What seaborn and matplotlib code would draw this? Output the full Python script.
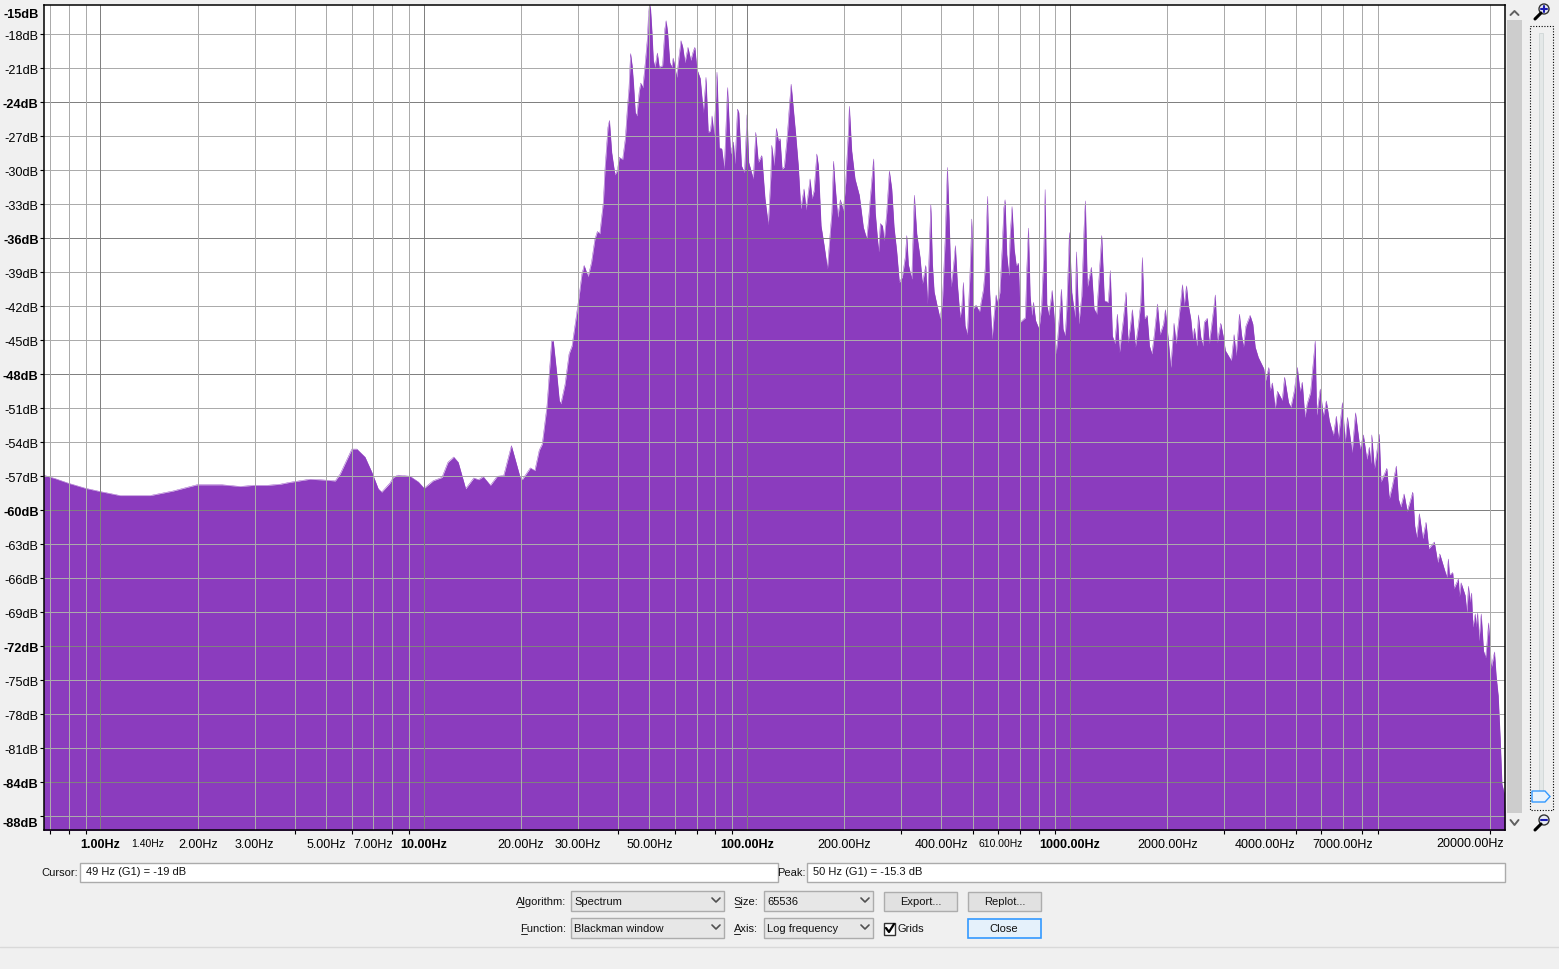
import pandas as pd
import numpy as np
import matplotlib.pyplot as plt
import seaborn as sns
from matplotlib.patches import Rectangle, Circle, Polygon

# spectrum, (Hz, dB), peaks and valleys
band_sub10 = [(0.667,-56.9),(0.724,-57.2),(0.794,-57.6),(0.897,-58.05),(1.0,-58.35),(1.151,-58.7),(1.425,-58.7),
    (1.678,-58.3),(1.99,-57.75),(2.38,-57.75),(2.71,-57.9),(2.97,-57.8),(3.28,-57.8),(3.6,-57.7),(3.86,-57.53),
    (4.45,-57.26),(4.88,-57.32),(5.33,-57.41),(5.52,-56.8),(6.0,-54.6),(6.22,-54.6),(6.59,-55.3),(6.92,-56.65),
    (7.24,-58.1),(7.42,-58.4),(7.87,-57.6),(8.06,-57.1),(8.34,-56.9),(9.08,-57.0),(9.64,-57.5)]

band_tens = [(10.04,-58.06),(10.7,-57.4),(11.4,-57.1),(11.9,-55.76),(12.4,-55.3),(12.8,-55.76),(13.5,-58.1),
    (14.3,-57.15),(14.8,-57.3),(15.3,-57.03),(16.1,-57.8),(16.9,-57.0),(17.7,-56.94),(18.7,-54.3),(19.9,-57.1),
    (20.2,-57.3),(21.4,-56.26),(22.1,-56.5),(22.8,-54.7),(23.3,-54.15),(24.1,-50.76),(24.9,-45.06),(25.2,-45.06),
    (25.8,-47.8),(26.3,-50.3),(26.6,-50.6),(27.4,-48.9),(28.2,-46.2),(28.8,-45.5),(29.6,-43.15),(30.3,-41.06),
    (30.9,-39.15),(31.4,-38.4),(32.3,-39.4),(33.1,-38.1),(33.9,-36.06),(34.5,-35.4),(35.1,-35.6),(36.0,-32.8),
    (36.4,-30.0),(37.2,-26.2),(37.6,-25.6),(38.2,-28.4),(39.1,-30.4),(39.8,-30.0),(40.3,-28.85),(41.3,-29.06),
    (42.1,-27.2),(42.7,-24.6),(43.2,-22.8),(43.7,-19.7),(44.2,-20.76),(44.6,-22.2),(45.2,-24.9),(45.7,-25.2),
    (46.5,-23.0),(47.0,-22.3),(47.7,-22.7),(48.5,-20.6),(49.3,-18.26),(49.6,-16.5),(50.0,-15.3),(50.4,-15.76),
    (50.9,-17.8),(51.4,-20.3),(52.0,-20.9),(52.9,-19.65),(53.6,-20.9),(54.9,-20.76),(55.8,-17.5),(56.3,-16.8),
    (56.9,-17.8),(57.8,-20.5),(58.7,-20.9),(59.2,-20.1),(60.0,-20.9),(60.7,-21.8),(61.7,-20.0),(62.6,-18.56),
    (63.4,-19.15),(64.4,-20.5),(65.8,-19.15),(67.1,-20.3),(68.4,-19.44),(69.1,-19.15),(70.1,-21.06),(71.8,-21.9),
    (73.4,-24.9),(74.8,-21.8),(76.0,-26.65),(77.2,-26.5),(78.1,-25.2),(79.2,-26.9),(80.9,-21.35),(82.2,-28.0),
    (83.7,-28.1),(85.2,-29.9),(87.2,-22.7),(89.1,-28.56),(90.9,-27.5),(92.0,-29.44),(93.6,-24.6),(94.5,-24.9),
    (96.3,-29.6),(98.4,-30.2)]

band_hundreds = [(100.2,-25.1),(101.4,-29.3),(104.8,-30.76),(106.6,-26.65),(108.6,-29.3),(111.3,-28.7),(113.9,-32.5),
    (116.6,-34.8),(118.7,-30.5),(119.5,-27.8),(121.5,-29.6),(123.5,-26.3),(125.3,-27.4),(126.8,-27.2),(128.6,-29.9),
    (130.7,-29.7),(133.6,-26.8),(135.5,-24.3),(137.2,-22.4),(138.8,-24.0),(142.1,-27.2),(144.4,-29.6),(146.9,-33.4),
    (150.4,-31.65),(152.6,-33.5),(157.0,-30.76),(159.2,-32.5),(161.6,-31.8),(164.7,-28.56),(166.6,-29.6),(169.8,-34.9),
    (173.5,-36.6),(177.7,-38.7),(181.1,-35.6),(183.4,-33.7),(185.5,-29.2),(187.4,-31.06),(191.2,-34.15),(194.8,-32.6),
    (199.0,-33.56),(202.4,-31.06),(206.2,-26.65),(207.7,-24.35),(211.2,-28.26),(216.3,-30.76),(223.0,-32.2),(229.5,-35.03),
    (235.1,-36.06),(238.0,-34.44),(246.8,-29.0),(249.8,-33.7),(255.8,-37.2),(259.0,-34.7),(263.0,-34.9),(266.3,-36.2),
    (271.1,-33.7),(276.2,-30.06),(281.0,-31.65),(285.6,-35.0),(291.2,-37.2),(296.6,-39.9),(303.0,-39.4),(309.2,-37.7),
    (312.7,-35.76),(316.2,-38.3),(324.0,-39.6),(327.7,-35.0),(330.0,-32.2),(335.8,-35.6),(343.8,-37.7),(349.5,-40.0),
    (358.0,-38.4),(362.2,-41.8),(366.6,-37.5),(371.1,-33.0),(375.4,-38.3),(380.0,-40.7),(387.2,-41.8),(396.5,-43.1),
    (403.0,-41.65),(410.9,-36.2),(417.6,-29.75),(422.7,-34.15),(428.8,-40.3),(435.8,-38.6),(442.1,-36.65),(448.4,-40.0),
    (457.1,-43.0),(462.7,-42.1),(468.0,-39.9),(473.6,-43.7),(481.5,-44.5),(490.9,-38.85),(497.0,-34.3),(502.6,-42.2),
    (512.4,-41.9),(525.0,-42.5),(531.0,-41.65),(540.0,-40.5),(546.5,-38.7),(555.8,-32.3),(564.0,-40.5),(574.0,-44.9),
    (583.8,-42.5),(591.0,-41.0),(597.5,-41.8),(607.0,-40.76),(617.0,-36.9),(624.5,-33.3),(630.0,-32.6),(637.5,-37.4),
    (647.0,-39.3),(653.0,-35.76),(662.0,-33.2),(672.0,-36.9),(682.0,-38.4),(693.0,-38.2),(702.0,-43.4),(728.0,-43.0),
    (735.0,-38.85),(744.0,-35.1),(753.0,-41.06),(762.0,-42.8),(771.0,-41.65),(783.0,-43.26),(802.0,-44.0),(817.0,-42.1),
    (829.0,-37.8),(838.0,-31.7),(848.0,-41.8),(860.0,-42.8),(870.0,-41.8),(881.0,-40.6),(894.0,-43.1),(906.0,-46.2),
    (917.0,-44.7),(929.0,-42.6),(941.0,-40.5),(952.0,-44.0),(967.0,-44.6),(977.5,-42.2),(996.0,-35.5)]

band_thousands = [(1013,-40.76),(1037,-43.0),(1047,-37.2),(1065,-43.56),(1088,-41.06),(1106,-35.0),(1116,-32.7),(1132,-40.3),
    (1165,-38.56),(1187,-42.2),(1210,-42.7),(1254,-35.76),(1278,-41.5),(1314,-41.65),(1333,-38.85),(1353,-44.6),
    (1376,-45.3),(1402,-42.7),(1423,-46.06),(1462,-43.26),(1491,-40.76),(1513,-45.2),(1535,-44.0),(1560,-42.3),
    (1594,-45.6),(1628,-43.7),(1656,-41.65),(1675,-37.7),(1699,-43.1),(1733,-42.8),(1762,-45.5),(1793,-46.2),
    (1825,-44.44),(1865,-41.8),(1900,-44.5),(1948,-43.56),(1974,-42.3),(2016,-45.0),(2051,-47.4),(2099,-43.5),
    (2130,-45.3),(2192,-42.1),(2229,-40.1),(2256,-41.94),(2294,-40.2),(2326,-41.94),(2365,-43.1),(2399,-44.9),
    (2427,-43.94),(2468,-45.5),(2497,-42.76),(2540,-44.7),(2576,-45.5),(2605,-43.4),(2660,-43.06),(2698,-45.3),
    (2737,-43.94),(2817,-41.0),(2857,-45.2),(2928,-43.5),(2983,-44.7),(3026,-45.9),(3158,-46.8),(3220,-44.5),
    (3268,-46.35),(3345,-42.7),(3393,-44.44),(3442,-45.6),(3502,-43.76),(3609,-42.8),(3680,-43.56),(3743,-45.6),
    (3826,-46.5),(3979,-47.5),(4028,-48.56),(4125,-47.4),(4161,-49.44),(4230,-48.76),(4314,-51.06),(4386,-49.5),
    (4538,-50.3),(4613,-48.26),(4747,-50.5),(4828,-50.9),(4945,-49.44),(5052,-47.4),(5152,-49.5),(5234,-48.7),
    (5332,-51.8),(5420,-50.6),(5552,-49.6),(5740,-45.06),(5797,-51.6),(5950,-49.3),(6080,-51.7),(6212,-50.35),
    (6348,-52.1),(6530,-53.4),(6672,-51.7),(6770,-53.7),(6967,-50.5),(7104,-54.0),(7222,-51.8),(7467,-54.9),
    (7648,-51.4),(7900,-54.6),(8090,-53.35),(8290,-55.5),(8440,-54.44),(8530,-55.9),(8590,-53.35),(8750,-56.35),
    (9060,-53.3),(9170,-57.5),(9560,-56.3),(9730,-59.0),(9950,-57.8)]

band_top = [(10060,-57.1),(10230,-56.1),(10380,-59.0),(10560,-59.7),(10810,-58.56),(11060,-60.1),(11500,-58.4),(11660,-61.35),
    (11830,-62.4),(12050,-60.3),(12350,-62.5),(12640,-61.06),(12890,-63.4),(13410,-62.8),(13740,-64.6),(13940,-63.85),
    (14300,-64.9),(14650,-65.9),(14820,-64.3),(14930,-65.7),(15290,-65.5),(15430,-66.9),(15920,-66.06),(16030,-67.6),
    (16230,-66.4),(16700,-67.5),(16910,-69.0),(17100,-66.7),(17310,-68.1),(17480,-67.3),(17650,-70.3),(17950,-69.15),
    (18080,-70.3),(18250,-69.06),(18430,-71.5),(18730,-69.15),(19040,-72.4),(19320,-73.0),(19510,-71.8),(19730,-69.94),
    (19970,-72.1),(20110,-73.94),(20590,-72.5),(20830,-74.6),(21140,-76.35),(21450,-80.2),(21710,-84.15),(22080,-85.0),
    (22190,-86.65)]

db_ticks = [-18, -21, -24, -27, -30, -33, -36, -39, -42, -45, -48, -51, -54, -57, -60, -63, -66, -69, -72, -75, -78, -81, -84, -87]
db_bold = [-24, -36, -48, -60, -72, -84]
freq_grid = [0.7, 0.8, 0.9, 1, 2, 3, 4, 5, 6, 7, 8, 9, 10, 20, 30, 40, 50, 60, 70, 80, 90, 100, 200, 300, 400, 500, 600,
    700, 800, 900, 1000, 2000, 3000, 4000, 5000, 6000, 7000, 8000, 9000, 20000]
freq_dark = [1, 10, 100, 1000]
freq_labels = [1, 1.4, 2, 3, 5, 7, 10, 20, 30, 50, 100, 200, 400, 610, 1000, 2000, 4000, 7000]
freq_bold = [1, 10, 100, 1000]
freq_small = [1.4, 610]

PURPLE = '#8B3CBE'
W, H = 1559, 970
FONT = 'Liberation Sans'
BG = '#F0F0F0'

df = pd.DataFrame(band_sub10 + band_tens + band_hundreds + band_thousands + band_top, columns=['freq', 'db'])

sns.set_theme(style='white')
plt.rcParams['font.family'] = [FONT, 'DejaVu Sans']

fig = plt.figure(figsize=(W / 100, H / 100), dpi=100, facecolor=BG)
ax = fig.add_axes([43.5 / W, 1 - 830.5 / H, 1461.5 / W, 825 / H])

sns.lineplot(data=df, x='freq', y='db', ax=ax, color=PURPLE, lw=0.3, estimator=None, errorbar=None, sort=False)
line_x, line_y = ax.lines[0].get_data()
ax.fill_between(line_x, line_y, -100, color=PURPLE, lw=0)

ax.set_xscale('log')
ax.set_xlim(0.667, 22190)
ax.set_ylim(-88.17, -15.37)
ax.set_xlabel('')
ax.set_ylabel('')

# grid over the fill
for d in db_ticks:
    ax.axhline(d, color='#808080' if d in db_bold else '#ABABAB', lw=0.72, zorder=3)
for f in freq_grid:
    ax.axvline(f, color='#808080' if f in freq_dark else '#ABABAB', lw=0.72, zorder=3)

for s in ax.spines.values():
    s.set_visible(True)
    s.set_color('black')
    s.set_linewidth(1.1)
    s.set_zorder(5)

ax.set_yticks(db_ticks)
ax.set_yticklabels(['' if d == -87 else f'{d}dB' for d in db_ticks], fontsize=9.2, color='black')
for lab, d in zip(ax.get_yticklabels(), db_ticks):
    if d in db_bold:
        lab.set_fontweight('bold')
ax.tick_params(axis='y', length=3, width=0.8, pad=0.5, left=True, color='black')

ax.set_xticks(freq_labels)
labs = [f'{f:.2f}Hz' for f in freq_labels]
ax.set_xticklabels(labs, fontsize=9, color='black')
for lab, f in zip(ax.get_xticklabels(), freq_labels):
    if f in freq_bold:
        lab.set_fontweight('bold')
    if f in freq_small:
        lab.set_fontsize(7.5)
ax.set_xticks(freq_grid, minor=True)
ax.set_xticklabels([], minor=True)
ax.tick_params(axis='x', which='major', length=0, pad=6)
ax.tick_params(axis='x', which='minor', length=3, width=0.8, bottom=True, color='black')

ax.annotate('20000.00Hz', xy=(1, 0), xycoords='axes fraction', xytext=(-1.5, -14), textcoords='offset pixels',
            ha='right', va='center', fontsize=9, color='black')
ax.annotate('-15dB', xy=(0, 1), xycoords='axes fraction', xytext=(-5, -10), textcoords='offset pixels',
            ha='right', va='center', fontsize=9.2, fontweight='bold', color='black')
ax.annotate('-88dB', xy=(0, 0), xycoords='axes fraction', xytext=(-5, 6), textcoords='offset pixels',
            ha='right', va='center', fontsize=9.2, fontweight='bold', color='black')

# dialog controls, in pixels
ui = fig.add_axes([0, 0, 1, 1], facecolor='none')
ui.set_xlim(0, W)
ui.set_ylim(H, 0)
ui.axis('off')


def box(x0, y0, x1, y1, face, edge, lw=0.8):
    ui.add_patch(Rectangle((x0 + .5, y0 + .5), x1 - x0, y1 - y0, facecolor=face, edgecolor=edge, lw=lw))


def label(x, y, s, ha='left', size=8, under=0):
    ui.text(x, y + 1, s, ha=ha, va='center', fontsize=size, color='#111111')
    if under:
        # access key underline below first letter
        x0 = x if ha == 'left' else x - under[0]
        ui.plot([x0, x0 + under[1]], [y + 6.5, y + 6.5], color='#222222', lw=0.7)


def combo(x0, y0, x1, y1, s):
    box(x0, y0, x1, y1, '#E7E7E7', '#ACACAC', 1)
    label(x0 + 3, (y0 + y1) / 2, s)
    cx, cy = x1 - 8, (y0 + y1) / 2
    ui.plot([cx - 4, cx, cx + 4], [cy - 2, cy + 2, cy - 2], color='#505050', lw=1.2)


def magnifier(cx, cy, plus):
    ui.plot([cx - 3, cx - 9], [cy + 4, cy + 10], color='black', lw=2.2)
    ui.add_patch(Circle((cx, cy), 5, facecolor='#E8ECF4', edgecolor='#333333', lw=1))
    ui.plot([cx - 3, cx + 3], [cy, cy], color='#1A1AB0', lw=1.5)
    if plus:
        ui.plot([cx, cx], [cy - 3, cy + 3], color='#1A1AB0', lw=1.5)


label(78, 872.5, 'Cursor:', ha='right')
box(80, 863, 778, 882, 'white', '#ABABAB', 1)
label(86, 871.5, '49 Hz (G1) = -19 dB')
label(806, 872.5, 'Peak:', ha='right')
box(807, 863, 1505, 882, 'white', '#ABABAB', 1)
label(813, 871.5, '50 Hz (G1) = -15.3 dB')

label(566, 901.5, 'Algorithm:', ha='right', under=(48, 6))
label(566, 928.5, 'Function:', ha='right', under=(45, 6))
label(758, 901.5, 'Size:', ha='right', under=(23, 6))
label(758, 928.5, 'Axis:', ha='right', under=(24, 6))
combo(571, 891, 724, 911, 'Spectrum')
combo(571, 918, 724, 938, 'Blackman window')
combo(764, 891, 873, 911, '65536')
combo(764, 918, 873, 938, 'Log frequency')

box(884, 892, 957, 911, '#E1E1E1', '#ADADAD', 1)
label(920.5, 901.5, 'Export...', ha='center')
box(968, 892, 1041, 911, '#E1E1E1', '#ADADAD', 1)
label(1004.5, 901.5, 'Replot...', ha='center')
box(968, 919, 1041, 938, '#E5F1FB', '#3399FF', 1.2)
label(1004, 928.5, 'Close', ha='center')
box(884, 923, 895, 935, 'white', '#333333', 1)
ui.plot([886, 889, 894], [929, 933, 925], color='black', lw=1.6)
label(898, 928.5, 'Grids')
ui.plot([0, W], [947.5, 947.5], color='#D9D9D9', lw=1)

# scroll bar and zoom slider on the right
ui.add_patch(Rectangle((1507, 21), 15, 793, facecolor='#CDCDCD', edgecolor='none'))
ui.plot([1510.5, 1514.5, 1518.5], [16, 12, 16], color='#606060', lw=1.4)
ui.plot([1510.5, 1514.5, 1518.5], [821, 826, 821], color='#606060', lw=1.4)
ui.add_patch(Rectangle((1530.5, 26.5), 23, 784, facecolor='none', edgecolor='black', lw=0.8, ls=(0, (1, 1.5))))
ui.add_patch(Rectangle((1539, 34), 4, 758, facecolor='#E4E8E8', edgecolor='#CFD6D6', lw=0.6))
ui.add_patch(Polygon([(1532, 792), (1545, 792), (1550, 797.5), (1545, 803), (1532, 803)], facecolor='#E8F2FC',
                     edgecolor='#3399FF', lw=1))
magnifier(1544, 10, True)
magnifier(1544, 821, False)

plt.savefig('out.png', dpi=100, facecolor=BG)
